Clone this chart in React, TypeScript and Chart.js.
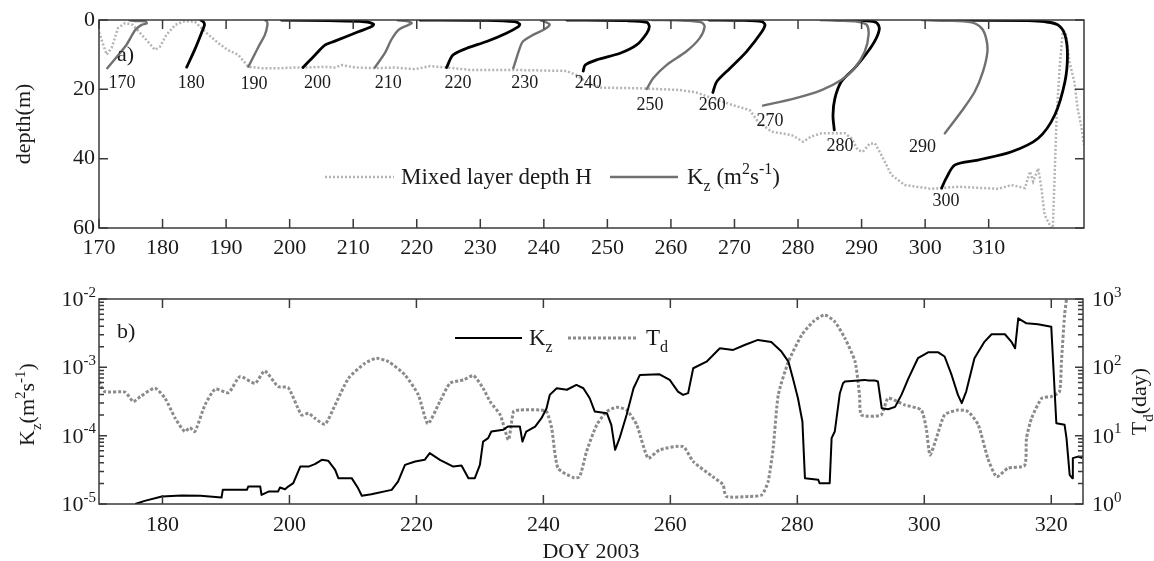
import React, { useEffect, useRef } from "react";
import { Chart, registerables } from "chart.js";

Chart.register(...registerables);

const SERIF = '"Liberation Serif", "Times New Roman", Times, serif';
const INK = "#1a1a1a";
const FRAME = "#3a3a3a";
const PROFILE_GRAY = "#707070";
const MLD_GRAY = "#b4b4b4";
const TD_GRAY = "#8a8a8a";

// ---------- panel a: mixed layer depth H (m) ----------
const mldDay = [
  170, 171.2, 172.0, 173.0, 174.1, 175.3, 177.2, 178.8, 179.6, 180.6, 182.0, 183.5, 185.1, 186.7,
  188.8, 190.3, 191.9, 193.5, 195.6, 198.7, 200.8, 202.9, 205.0, 207.1, 208.2, 210.3, 213.4, 216.6,
  219.7, 220.5, 222.1, 224.7, 228.4, 235.2, 243.6, 245.1, 246.2, 248.8, 255.1, 261.4, 264.0, 266.6,
  269.3, 272.4, 273.7, 275.8, 279.0, 280.8, 282.1, 283.7, 287.4, 288.4, 289.4, 290.2, 291.3, 292.1,
  293.1, 294.7, 296.8, 301.0, 305.2, 311.5, 313.6, 315.7, 316.5, 317.0, 317.8, 318.3, 318.8, 319.6,
  319.9, 320.1, 320.7, 321.2, 321.7, 322.2, 322.7, 323.5, 324.0, 324.6, 325,
];
const mldDepth = [
  3.5, 10, 8, 2.3, 0.9, 1.4, 5.2, 8.6, 7.7, 4.3, 1.4, 0.3, 0.5, 3.4,
  6.7, 8.7, 10, 13.5, 13.9, 13.9, 13.7, 13.7, 13.5, 13.7, 13.0, 13.7, 13.9, 13.7,
  14.2, 13.9, 13.3, 13.7, 14.4, 14.4, 14.7, 15.9, 17.3, 19.5, 19.7, 20.2, 20.9, 22.6,
  24.3, 26, 29.3, 32.2, 33.2, 35.1, 33.6, 32.7, 32.7, 34.1, 37.5, 38, 35.6, 35.6,
  38.9, 44.7, 47.6, 48.7, 48.1, 48.7, 47.6, 48.5, 43.7, 46.6, 42.8, 48.5, 56.2, 59.1,
  60, 60, 27.4, 13, 2.5, 4.3, 12, 18, 25.5, 31, 36,
];

// ---------- panel a: K_z profiles, drawn as [day offset by K_z, depth] ----------
const profile170 = [[171.3, 13.9], [174.3, 7.2], [175.7, 2.9], [176.7, 1.4], [177.5, 1.0], [177.3, 0.4], [175.6, 0.3], [174.8, 0.1]];
const profile180 = [[183.8, 13.6], [185.1, 8.4], [186.2, 3.4], [186.6, 1.4], [186.4, 0.5], [186.0, 0]];
const profile190 = [[193.5, 13.5], [195.1, 7.7], [196.1, 4.3], [196.5, 1.4], [196.4, 0.3], [196.1, 0]];
const profile200 = [[202.1, 13.7], [204.0, 10.1], [205.6, 7.2], [207.1, 6.1], [210.8, 3.4], [212.9, 1.9], [213.2, 1.2], [211.8, 0.5], [206.1, 0.2], [198.7, 0]];
const profile210 = [[213.4, 13.7], [215.0, 9.5], [216.0, 5.7], [217.1, 2.9], [218.7, 1.4], [219.2, 0.9], [218.4, 0.3], [217.0, 0.1]];
const profile220 = [[224.7, 13.7], [225.7, 10.1], [227.8, 8.2], [231.0, 6.2], [234.1, 3.8], [236.0, 1.9], [236.2, 1.2], [235.4, 0.5], [231.0, 0.1], [220.5, 0]];
const profile230 = [[235.2, 13.9], [236.2, 8.2], [236.7, 6.2], [238.3, 4.3], [239.9, 2.9], [240.7, 1.9], [240.9, 1.2], [240.2, 0.5], [239.5, 0.1]];
const profile240 = [[246.2, 14.7], [246.5, 13.0], [248.3, 11.5], [252.0, 9.6], [254.6, 7.2], [256.2, 3.8], [256.6, 1.9], [256.2, 0.7], [253.0, 0.2], [243.6, 0]];
const profile250 = [[256.2, 19.9], [257.2, 16.8], [259.3, 13.0], [262.4, 9.1], [264.5, 5.3], [265.3, 1.9], [264.8, 0.7], [262.4, 0.2], [257.0, 0]];
const profile260 = [[266.6, 20.9], [267.2, 17.8], [269.3, 13.9], [271.9, 9.1], [274.3, 3.4], [274.8, 1.4], [274.3, 0.5], [271.0, 0.1], [266.0, 0]];
const profile270 = [[274.5, 24.7], [279.5, 22.6], [283.7, 20.2], [286.8, 17.3], [288.9, 13.9], [290.5, 9.1], [291.1, 4.3], [290.8, 1.4], [289.4, 0.5], [286.3, 0.2], [283.5, 0]];
const profile280 = [[285.7, 31.7], [285.5, 27.4], [285.8, 22.6], [286.8, 17.8], [288.9, 13.9], [291.0, 9.1], [292.3, 5.3], [292.8, 2.4], [292.3, 0.7], [290.5, 0.2], [286.3, 0]];
const profile290 = [[303.1, 32.7], [305.7, 26.4], [307.8, 20.7], [309.1, 14.9], [309.8, 9.1], [309.6, 5.3], [308.9, 2.4], [307.3, 0.7], [303.1, 0.2], [299.5, 0]];
const profile300 = [[302.6, 48.5], [303.3, 45.7], [304.7, 41.8], [308.3, 40.4], [313.6, 38.0], [317.8, 34.1], [320.4, 27.4], [322.0, 17.8], [322.4, 10.1], [322.0, 4.3], [320.9, 1.4], [318.8, 0.5], [316.2, 0.2], [303.1, 0]];

const profiles = [
  profile170, profile180, profile190, profile200, profile210, profile220, profile230,
  profile240, profile250, profile260, profile270, profile280, profile290, profile300,
];
const profileDays = [170, 180, 190, 200, 210, 220, 230, 240, 250, 260, 270, 280, 290, 300];
const profileLabelDay = [173.6, 184.5, 194.4, 204.4, 215.5, 226.5, 237.0, 247.0, 256.7, 266.5, 275.6, 286.6, 299.6, 303.3];
const profileLabelDepth = [18.3, 18.3, 18.5, 18.3, 18.3, 18.3, 18.3, 18.3, 24.7, 24.7, 29.1, 36.5, 36.8, 52.4];

const dayTicksTop = [170, 180, 190, 200, 210, 220, 230, 240, 250, 260, 270, 280, 290, 300, 310];
const depthTicks = [0, 20, 40, 60];

// ---------- panel b: K_z (m2 s-1) and T_d (day) ----------
const kzDay = [
  175.7, 177.2, 179.9, 183.0, 186.0, 189.3, 189.5, 193.3, 193.5, 195.4, 195.6, 196.7, 198.2, 198.5,
  199.3, 199.8, 200.6, 201.7, 203.0, 204.0, 205.1, 206.1, 207.2, 207.7, 209.8, 210.8, 211.4, 212.9,
  216.1, 217.1, 218.2, 219.8, 221.3, 222.1, 223.7, 225.8, 227.1, 228.2, 229.2, 230.0, 230.5, 231.3,
  231.8, 233.7, 234.4, 236.3, 236.7, 237.3, 238.7, 239.7, 240.5, 241.0, 242.1, 243.7, 245.2, 246.3,
  247.3, 248.1, 250.0, 250.7, 251.3, 252.0, 253.1, 254.2, 255.2, 258.3, 259.9, 261.2, 262.0, 262.8,
  263.6, 265.7, 267.8, 269.9, 271.7, 273.8, 275.9, 277.5, 278.6, 279.3, 280.1, 280.8, 281.2, 283.3,
  283.5, 285.1, 285.4, 285.9, 286.7, 287.2, 287.5, 290.6, 291.2, 292.2, 292.7, 293.3, 294.3, 295.4,
  296.4, 297.5, 299.0, 300.6, 302.2, 303.2, 304.3, 305.3, 305.9, 306.6, 307.9, 309.5, 310.6, 312.7,
  313.7, 314.3, 314.8, 316.1, 317.9, 320.0, 320.8, 322.1, 322.4, 322.9, 323.3, 323.4, 324.2, 324.9,
];
const kzValue = [
  1.0e-5, 1.11e-5, 1.29e-5, 1.33e-5, 1.32e-5, 1.24e-5, 1.61e-5, 1.61e-5, 1.8e-5, 1.8e-5, 1.36e-5, 1.52e-5, 1.52e-5, 1.74e-5,
  1.64e-5, 1.8e-5, 2.02e-5, 3.53e-5, 3.53e-5, 3.83e-5, 4.43e-5, 4.3e-5, 3.16e-5, 2.39e-5, 2.39e-5, 1.71e-5, 1.32e-5, 1.39e-5,
  1.61e-5, 2.13e-5, 3.74e-5, 4.19e-5, 4.43e-5, 5.55e-5, 4.43e-5, 3.53e-5, 3.66e-5, 2.39e-5, 2.39e-5, 3.74e-5, 8.2e-5, 9.19e-5,
  1.15e-4, 1.22e-4, 1.36e-4, 1.36e-4, 8.2e-5, 1.15e-4, 1.36e-4, 1.8e-4, 2.52e-4, 3.95e-4, 4.94e-4, 4.7e-4, 5.53e-4, 4.94e-4,
  3.53e-4, 2.25e-4, 2.13e-4, 1.44e-4, 6.2e-5, 9.19e-5, 2.01e-4, 4.94e-4, 7.74e-4, 7.9e-4, 6.55e-4, 4.42e-4, 3.95e-4, 4.2e-4,
  9.7e-4, 1.21e-3, 1.9e-3, 1.8e-3, 2.12e-3, 2.52e-3, 2.34e-3, 1.7e-3, 1.21e-3, 6.9e-4, 3.53e-4, 1.61e-4, 2.39e-5, 2.26e-5,
  2.02e-5, 2.02e-5, 9.19e-5, 1.15e-4, 4.18e-4, 5.86e-4, 6.2e-4, 6.55e-4, 6.4e-4, 6.4e-4, 6.2e-4, 2.52e-4, 2.43e-4, 2.64e-4,
  3.95e-4, 6.9e-4, 1.36e-3, 1.66e-3, 1.66e-3, 1.44e-3, 7.74e-4, 3.95e-4, 2.99e-4, 4.42e-4, 1.36e-3, 2.38e-3, 3.05e-3, 3.05e-3,
  2.38e-3, 1.9e-3, 5.22e-3, 4.41e-3, 4.27e-3, 3.94e-3, 1.52e-4, 1.44e-4, 9.19e-5, 2.67e-5, 2.39e-5, 4.69e-5, 4.94e-5, 4.7e-5,
];

const tdDay = [
  170.0, 170.9, 174.1, 175.4, 176.5, 178.8, 180.4, 182.0, 183.5, 184.3, 185.1, 186.7, 188.3, 190.4,
  192.2, 194.6, 196.1, 198.2, 199.8, 201.9, 203.0, 204.0, 205.6, 207.2, 209.3, 211.9, 213.7, 215.6,
  218.2, 220.3, 221.8, 223.7, 225.3, 227.4, 229.0, 230.5, 231.6, 233.2, 234.5, 235.3, 236.3, 239.4,
  240.5, 241.3, 242.3, 244.7, 245.7, 246.8, 248.4, 250.0, 251.5, 253.1, 254.7, 256.5, 258.3, 262.0,
  263.6, 266.7, 268.3, 268.8, 272.5, 274.4, 275.4, 276.2, 277.0, 278.6, 280.7, 282.5, 284.3, 285.9,
  287.5, 289.1, 289.8, 290.1, 293.2, 294.3, 296.9, 299.5, 300.3, 300.9, 301.9, 303.2, 305.3, 306.9,
  308.5, 310.0, 311.4, 313.2, 315.8, 316.1, 316.9, 318.5, 320.0, 321.3, 321.6, 322.1, 322.4,
];
const tdValue = [
  61.8, 44.2, 43.3, 31.6, 37.3, 49.5, 35.3, 18, 11.5, 13.1, 11.5, 28.2, 47.9, 42.7,
  73.1, 58.6, 88.5, 52.3, 50.5, 20.1, 21.3, 18, 14.7, 28.2, 69.2, 114.8, 135.8, 121,
  77.4, 39.4, 15.0, 31.6, 58.6, 65.5, 75.6, 49.5, 31.6, 20.1, 8.7, 22.5, 23.8, 23.8,
  22.5, 12.9, 3.35, 2.44, 2.5, 5.86, 14.4, 22.5, 26.1, 23.8, 14.4, 4.69, 6.2, 6.93,
  4.18, 2.5, 1.91, 1.29, 1.29, 1.36, 2.13, 6.6, 39.4, 121, 298, 466, 584, 466,
  266, 121, 39.4, 20.1, 20.1, 35.3, 28.2, 23.8, 12.9, 5.24, 9.19, 20.1, 23.8, 22.5,
  14.4, 4.69, 2.5, 3.35, 3.66, 9.19, 18, 35.3, 37.3, 44.2, 121, 584, 1000,
];

const dayTicksBottom = [180, 200, 220, 240, 260, 280, 300, 320];
const kzDecades = [-5, -4, -3, -2];
const tdDecades = [0, 1, 2, 3];

type Seg = { t: string; s?: "sub" | "sup" };

function drawRich(
  ctx: CanvasRenderingContext2D,
  segs: Seg[],
  x: number,
  y: number,
  size: number,
  align: "left" | "center" | "right"
) {
  const small = Math.round(size * 0.68);
  ctx.textAlign = "left";
  ctx.textBaseline = "alphabetic";
  const widths = segs.map((s) => {
    ctx.font = `${s.s ? small : size}px ${SERIF}`;
    return ctx.measureText(s.t).width;
  });
  const total = widths.reduce((a, b) => a + b, 0);
  let cx = align === "left" ? x : align === "center" ? x - total / 2 : x - total;
  segs.forEach((s, i) => {
    ctx.font = `${s.s ? small : size}px ${SERIF}`;
    const dy = s.s === "sup" ? -size * 0.42 : s.s === "sub" ? size * 0.3 : 0;
    ctx.fillText(s.t, cx, y + dy);
    cx += widths[i];
  });
}

function drawRotated(ctx: CanvasRenderingContext2D, segs: Seg[], cx: number, cy: number, size: number) {
  ctx.save();
  ctx.translate(cx, cy);
  ctx.rotate(-Math.PI / 2);
  drawRich(ctx, segs, 0, size * 0.32, size, "center");
  ctx.restore();
}

function TopPanel() {
  const ref = useRef<HTMLCanvasElement>(null);
  useEffect(() => {
    if (!ref.current) return;
    const panelA = {
      id: "panelA",
      afterDatasetsDraw(chart: any) {
        const { ctx, chartArea: a, scales } = chart;
        const x = scales.x;
        const y = scales.y;
        ctx.save();
        ctx.fillStyle = INK;

        // day labels under each profile
        ctx.font = `18px ${SERIF}`;
        ctx.textAlign = "center";
        ctx.textBaseline = "middle";
        profileDays.forEach((d, i) => {
          ctx.fillText(String(d), x.getPixelForValue(profileLabelDay[i]), y.getPixelForValue(profileLabelDepth[i]));
        });

        // frame and inward ticks
        ctx.strokeStyle = FRAME;
        ctx.lineWidth = 1.5;
        ctx.strokeRect(a.left, a.top, a.width, a.height);
        ctx.beginPath();
        dayTicksTop.forEach((d) => {
          const px = x.getPixelForValue(d);
          ctx.moveTo(px, a.bottom);
          ctx.lineTo(px, a.bottom - 9);
          ctx.moveTo(px, a.top);
          ctx.lineTo(px, a.top + 9);
        });
        depthTicks.forEach((v) => {
          const py = y.getPixelForValue(v);
          ctx.moveTo(a.left, py);
          ctx.lineTo(a.left + 9, py);
          ctx.moveTo(a.right, py);
          ctx.lineTo(a.right - 9, py);
        });
        ctx.stroke();

        // tick labels
        ctx.font = `22px ${SERIF}`;
        ctx.textAlign = "center";
        ctx.textBaseline = "middle";
        dayTicksTop.forEach((d) => ctx.fillText(String(d), x.getPixelForValue(d), a.bottom + 20));
        ctx.textAlign = "right";
        depthTicks.forEach((v) => ctx.fillText(String(v), a.left - 4, y.getPixelForValue(v)));

        // axis title and panel tag
        drawRotated(ctx, [{ t: "depth(m)" }], 23, (a.top + a.bottom) / 2, 22);
        drawRich(ctx, [{ t: "a)" }], a.left + 18, a.top + 41, 22, "left");

        // legend
        const ly = 177;
        ctx.lineWidth = 2.5;
        ctx.strokeStyle = MLD_GRAY;
        ctx.setLineDash([2, 2]);
        ctx.beginPath();
        ctx.moveTo(325, ly);
        ctx.lineTo(394, ly);
        ctx.stroke();
        ctx.setLineDash([]);
        ctx.strokeStyle = PROFILE_GRAY;
        ctx.beginPath();
        ctx.moveTo(610, ly);
        ctx.lineTo(678, ly);
        ctx.stroke();
        drawRich(ctx, [{ t: "Mixed layer depth H" }], 401, ly + 7, 23, "left");
        drawRich(
          ctx,
          [{ t: "K" }, { t: "z", s: "sub" }, { t: " (m" }, { t: "2", s: "sup" }, { t: "s" }, { t: "-1", s: "sup" }, { t: ")" }],
          687,
          ly + 7,
          23,
          "left"
        );
        ctx.restore();
      },
    };

    const datasets: any[] = profiles.map((p, i) => ({
      data: p.map(([d, z]) => ({ x: d, y: z })),
      borderColor: i % 2 === 0 ? PROFILE_GRAY : "#000000",
      borderWidth: i % 2 === 0 ? 2.4 : 2.8,
      pointRadius: 0,
      tension: 0.3,
      fill: false,
      borderJoinStyle: "round",
      borderCapStyle: "round",
    }));
    datasets.push({
      data: mldDay.map((d, i) => ({ x: d, y: mldDepth[i] })),
      borderColor: MLD_GRAY,
      borderWidth: 2.5,
      borderDash: [2, 2],
      pointRadius: 0,
      tension: 0,
      fill: false,
    });

    const chart = new Chart(ref.current, {
      type: "line",
      data: { datasets },
      options: {
        responsive: false,
        animation: false,
        events: [],
        layout: { padding: { left: 99, right: 70, top: 20, bottom: 42 } },
        scales: {
          x: { type: "linear", min: 170, max: 325, display: false },
          y: { type: "linear", min: 0, max: 60, reverse: true, display: false },
        },
        plugins: { legend: { display: false }, tooltip: { enabled: false } },
      },
      plugins: [panelA],
    } as any);
    return () => chart.destroy();
  }, []);
  return (
    <canvas
      ref={ref}
      width={1154}
      height={270}
      style={{ position: "absolute", left: 0, top: 0, width: 1154, height: 270, display: "block" }}
    />
  );
}

function BottomPanel() {
  const ref = useRef<HTMLCanvasElement>(null);
  useEffect(() => {
    if (!ref.current) return;
    const panelB = {
      id: "panelB",
      afterDatasetsDraw(chart: any) {
        const { ctx, chartArea: a, scales } = chart;
        const x = scales.x;
        const yk = scales.y;
        const yt = scales.y2;
        ctx.save();
        ctx.fillStyle = INK;

        // frame and inward ticks
        ctx.strokeStyle = FRAME;
        ctx.lineWidth = 1.5;
        ctx.strokeRect(a.left, a.top, a.width, a.height);
        ctx.beginPath();
        dayTicksBottom.forEach((d) => {
          const px = x.getPixelForValue(d);
          ctx.moveTo(px, a.bottom);
          ctx.lineTo(px, a.bottom - 9);
          ctx.moveTo(px, a.top);
          ctx.lineTo(px, a.top + 9);
        });
        kzDecades.forEach((e, k) => {
          for (let m = 1; m < 10; m++) {
            if (k === kzDecades.length - 1 && m > 1) break;
            const pl = yk.getPixelForValue(m * Math.pow(10, e));
            const pr = yt.getPixelForValue(m * Math.pow(10, tdDecades[k]));
            const len = m === 1 ? 8 : 5;
            ctx.moveTo(a.left, pl);
            ctx.lineTo(a.left + len, pl);
            ctx.moveTo(a.right, pr);
            ctx.lineTo(a.right - len, pr);
          }
        });
        ctx.stroke();

        // tick labels
        ctx.font = `22px ${SERIF}`;
        ctx.textAlign = "center";
        ctx.textBaseline = "middle";
        dayTicksBottom.forEach((d) => ctx.fillText(String(d), x.getPixelForValue(d), a.bottom + 21));
        kzDecades.forEach((e) => {
          drawRich(ctx, [{ t: "10" }, { t: String(e), s: "sup" }], a.left - 3, yk.getPixelForValue(Math.pow(10, e)) + 7, 22, "right");
        });
        tdDecades.forEach((e) => {
          drawRich(ctx, [{ t: "10" }, { t: String(e), s: "sup" }], a.right + 9, yt.getPixelForValue(Math.pow(10, e)) + 7, 22, "left");
        });

        // axis titles and panel tag
        drawRotated(
          ctx,
          [{ t: "K" }, { t: "z", s: "sub" }, { t: "(m" }, { t: "2", s: "sup" }, { t: "s" }, { t: "-1", s: "sup" }, { t: ")" }],
          27,
          (a.top + a.bottom) / 2 + 3,
          22
        );
        drawRotated(ctx, [{ t: "T" }, { t: "d", s: "sub" }, { t: "(day)" }], 1139, (a.top + a.bottom) / 2, 22);
        drawRich(ctx, [{ t: "DOY 2003" }], (a.left + a.right) / 2, a.bottom + 54, 22, "center");
        drawRich(ctx, [{ t: "b)" }], a.left + 18, a.top + 39, 22, "left");

        // legend
        const ly = 68;
        ctx.lineWidth = 2;
        ctx.strokeStyle = "#000000";
        ctx.beginPath();
        ctx.moveTo(455, ly);
        ctx.lineTo(522, ly);
        ctx.stroke();
        ctx.lineWidth = 3;
        ctx.strokeStyle = TD_GRAY;
        ctx.setLineDash([3, 2]);
        ctx.beginPath();
        ctx.moveTo(568, ly);
        ctx.lineTo(637, ly);
        ctx.stroke();
        ctx.setLineDash([]);
        drawRich(ctx, [{ t: "K" }, { t: "z", s: "sub" }], 529, ly + 7, 23, "left");
        drawRich(ctx, [{ t: "T" }, { t: "d", s: "sub" }], 646, ly + 7, 23, "left");
        ctx.restore();
      },
    };

    const chart = new Chart(ref.current, {
      type: "line",
      data: {
        datasets: [
          {
            data: kzDay.map((d, i) => ({ x: d, y: kzValue[i] })),
            yAxisID: "y",
            borderColor: "#000000",
            borderWidth: 2,
            pointRadius: 0,
            tension: 0,
            fill: false,
            borderJoinStyle: "round",
          },
          {
            data: tdDay.map((d, i) => ({ x: d, y: tdValue[i] })),
            yAxisID: "y2",
            borderColor: TD_GRAY,
            borderWidth: 3,
            borderDash: [3, 2],
            pointRadius: 0,
            tension: 0.2,
            fill: false,
          },
        ],
      },
      options: {
        responsive: false,
        animation: false,
        events: [],
        layout: { padding: { left: 99, right: 71, top: 29, bottom: 57 } },
        scales: {
          x: { type: "linear", min: 170, max: 325, display: false },
          y: { type: "logarithmic", min: 1e-5, max: 1e-2, display: false },
          y2: { type: "logarithmic", min: 1, max: 1000, position: "right", display: false },
        },
        plugins: { legend: { display: false }, tooltip: { enabled: false } },
      },
      plugins: [panelB],
    } as any);
    return () => chart.destroy();
  }, []);
  return (
    <canvas
      ref={ref}
      width={1154}
      height={291}
      style={{ position: "absolute", left: 0, top: 270, width: 1154, height: 291, display: "block" }}
    />
  );
}

export default function App() {
  return (
    <div style={{ position: "fixed", left: 0, top: 0, width: 1154, height: 561, background: "#ffffff", overflow: "hidden" }}>
      <TopPanel />
      <BottomPanel />
    </div>
  );
}
